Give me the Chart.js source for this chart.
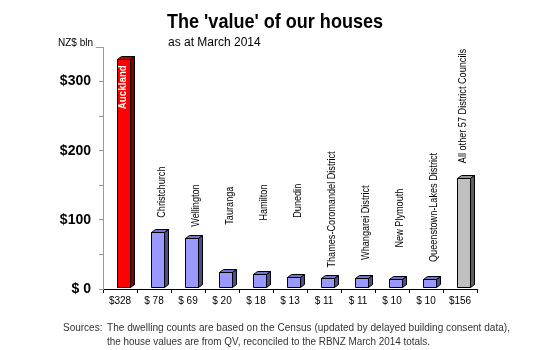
<!DOCTYPE html>
<html>
<head>
<meta charset="utf-8">
<script src="https://cdn.jsdelivr.net/npm/chart.js@4/dist/chart.umd.min.js"></script>
<style>
html,body{margin:0;padding:0;background:#fff;}
canvas{display:block;}
</style>
</head>
<body>
<canvas id="c" width="550" height="350"></canvas>
<script>
const categories = ['Auckland','Christchurch','Wellington','Tauranga','Hamilton','Dunedin','Thames-Coromandel District','Whangarei District','New Plymouth','Queenstown-Lakes District','All other 57 District Councils'];
const values = [328, 78, 69, 20, 18, 13, 11, 11, 10, 10, 156];
const valueLabels = ['$328','$ 78','$ 69','$ 20','$ 18','$ 13','$ 11','$ 11','$ 10','$ 10','$156'];
const yTickLabels = ['$ 0','$100','$200','$300'];
const yUnit = 'NZ$ bln';
const titleText = "The 'value' of our houses";
const subtitleText = 'as at March 2014';
const sourceLead = 'Sources:';
const sourceLines = ['The dwelling counts are based on the Census (updated by delayed building consent data),',
                     'the house values are from QV, reconciled to the RBNZ March 2014 totals.'];

const FONT = '"Liberation Sans", Arial, sans-serif';

const faceColors = i => {
  if (i === 0) return {front:'#FF0000', top:'#C00000', side:'#800000'};
  if (i === categories.length - 1) return {front:'#C0C0C0', top:'#969696', side:'#5F5F5F'};
  return {front:'#9999FF', top:'#7373D2', side:'#4D4D8A'};
};

const bars3d = {
  id: 'bars3d',
  afterDatasetsDraw(chart, args, opts) {
    const ctx = chart.ctx;
    const meta = chart.getDatasetMeta(0);
    const dx = opts.depthX, dy = opts.depthY;
    meta.data.forEach((bar, i) => {
      const p = bar.getProps(['x','y','base','width'], true);
      const left = Math.round(p.x - p.width/2 + opts.shift) + 0.5;
      const right = left + Math.round(p.width);
      const top = Math.round(p.y - 3) + 0.5;
      const bottom = Math.round(p.base - 2) + 0.5;
      const c = faceColors(i);
      ctx.save();
      ctx.lineWidth = 1;
      ctx.strokeStyle = '#000';
      ctx.lineJoin = 'miter';
      // front
      ctx.fillStyle = c.front;
      ctx.beginPath();
      ctx.rect(left, top, right-left, bottom-top);
      ctx.fill(); ctx.stroke();
      // top
      ctx.fillStyle = c.top;
      ctx.beginPath();
      ctx.moveTo(left, top); ctx.lineTo(left+dx, top-dy); ctx.lineTo(right+dx, top-dy); ctx.lineTo(right, top); ctx.closePath();
      ctx.fill(); ctx.stroke();
      // side
      ctx.fillStyle = c.side;
      ctx.beginPath();
      ctx.moveTo(right, top); ctx.lineTo(right+dx, top-dy); ctx.lineTo(right+dx, bottom-dy); ctx.lineTo(right, bottom); ctx.closePath();
      ctx.fill(); ctx.stroke();
      ctx.restore();

      // rotated category label
      const ys = chart.scales.y;
      const py = ys.getPixelForValue(opts.labelStart[i]);
      const cx = p.x + opts.shift + opts.labelDx[i];
      ctx.save();
      ctx.translate(cx, py);
      ctx.rotate(-Math.PI/2);
      if (i === 0) {
        ctx.font = 'bold 11px ' + FONT;
        ctx.fillStyle = '#FFFFFF';
        ctx.scale(0.89, 1);
      } else {
        ctx.font = '11px ' + FONT;
        ctx.fillStyle = '#000000';
        ctx.scale(0.83, 1);
      }
      ctx.textAlign = 'left';
      ctx.textBaseline = 'middle';
      ctx.fillText(categories[i], 0, 0);
      ctx.restore();
    });
  }
};

const texts = {
  id: 'texts',
  afterDraw(chart) {
    const ctx = chart.ctx;
    ctx.save();
    // title
    ctx.font = 'bold 21px ' + FONT;
    ctx.fillStyle = '#000';
    ctx.textBaseline = 'alphabetic';
    ctx.textAlign = 'left';
    const tw = ctx.measureText(titleText).width;
    ctx.save();
    ctx.translate(167, 28);
    ctx.scale(216 / tw, 1);
    ctx.fillText(titleText, 0, 0);
    ctx.restore();
    // subtitle
    ctx.font = '12px ' + FONT;
    ctx.textBaseline = 'middle';
    ctx.fillText(subtitleText, 168, 43);
    // unit label
    ctx.font = '10px ' + FONT;
    ctx.textAlign = 'right';
    ctx.fillText(yUnit, 93, 43);
    ctx.strokeStyle = '#999';
    ctx.lineWidth = 1;
    ctx.beginPath(); ctx.moveTo(96, 47.5); ctx.lineTo(103, 47.5); ctx.stroke();
    // sources
    ctx.font = '10px ' + FONT;
    ctx.fillStyle = '#333';
    ctx.textAlign = 'left';
    ctx.fillText(sourceLead, 63, 328);
    const targets = [403, 323];
    sourceLines.forEach((s, k) => {
      const w = ctx.measureText(s).width;
      ctx.save();
      ctx.translate(107, 328 + k*14);
      ctx.scale(Math.min(1.05, targets[k] / w), 1);
      ctx.fillText(s, 0, 0);
      ctx.restore();
    });
    ctx.restore();
  }
};

new Chart(document.getElementById('c'), {
  type: 'bar',
  data: {
    labels: categories,
    datasets: [{
      data: values,
      backgroundColor: 'rgba(0,0,0,0)',
      borderWidth: 0,
      barThickness: 13
    }]
  },
  options: {
    responsive: false,
    animation: false,
    devicePixelRatio: 1,
    layout: { padding: { left: 0, right: 73, top: 47, bottom: 0 } },
    plugins: {
      legend: { display: false },
      tooltip: { enabled: false },
      title: { display: false },
      bars3d: {
        shift: 3, depthX: 4, depthY: 3,
        labelStart: [260, 103, 90, 93, 99, 103, 31, 42, 60, 39, 182],
        labelDx: [0, 5, 5, 5, 5, 5, 5, 5, 5, 5, 0]
      }
    },
    scales: {
      x: {
        offset: true,
        grid: { offset: true, drawOnChartArea: false, drawTicks: true, tickLength: 4, color: '#000' },
        border: { display: true, color: '#000' },
        ticks: {
          autoSkip: false, maxRotation: 0, minRotation: 0, padding: 2,
          color: '#000', font: { family: FONT, size: 10 },
          callback: (v, i) => valueLabels[i]
        },
        afterFit: s => { s.height = 61; }
      },
      y: {
        min: 0, max: 350,
        grid: { drawOnChartArea: false, drawTicks: true, tickLength: 4, color: '#999' },
        border: { display: true, color: '#999' },
        ticks: {
          stepSize: 50, padding: 8, color: '#000',
          font: { family: FONT, size: 14, weight: 'bold' },
          callback: v => (v % 100 === 0 && v / 100 < yTickLabels.length) ? yTickLabels[v / 100] : ''
        },
        afterFit: s => { s.width = 103; }
      }
    }
  },
  plugins: [bars3d, texts]
});
</script>
</body>
</html>
